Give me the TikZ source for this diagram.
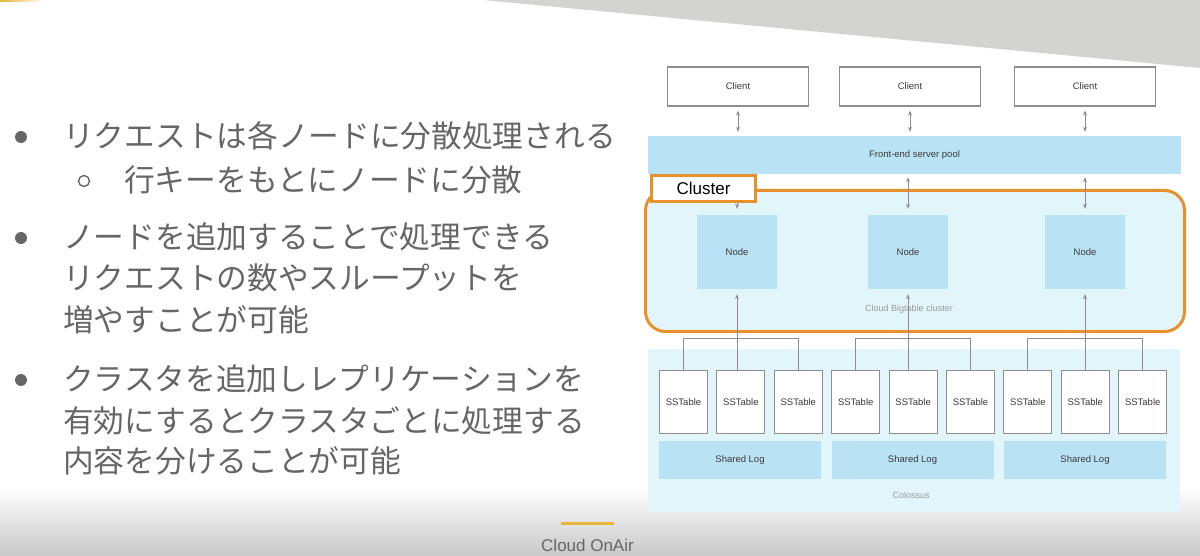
\documentclass[tikz,border=0pt]{standalone}
\usepackage{fontspec}
\setmainfont{Liberation Sans}
\newfontfamily\jpfont{Noto Sans CJK JP}
\usetikzlibrary{arrows.meta}
\definecolor{linegray}{HTML}{8E8E8E}
\definecolor{boxtext}{HTML}{3A3A3A}
\definecolor{captiongray}{HTML}{9A9A9A}
\definecolor{tileblue}{HTML}{B9E3F4}
\definecolor{clustercyan}{HTML}{E2F5FA}
\definecolor{clusterorange}{HTML}{E8912C}
\definecolor{slidegray}{HTML}{666666}
\definecolor{topgray}{HTML}{D3D3D2}
\definecolor{footgray}{HTML}{C8C8C8}
\definecolor{onairyellow}{HTML}{E6B63B}
\begin{document}
\begin{tikzpicture}[x=1pt,y=-1pt,
    box/.style={draw=linegray,line width=1.1pt,fill=white,inner sep=0pt,text=boxtext,font=\fontsize{9.5}{11}\selectfont},
    tile/.style={fill=tileblue,inner sep=0pt,text=boxtext,font=\fontsize{9.5}{11}\selectfont},
    bgcaption/.style={text=captiongray,font=\fontsize{9}{11}\selectfont},
    link/.style={draw=linegray,line width=1pt},
    twoway/.style={link,{Stealth[length=5pt,width=4pt]}-{Stealth[length=5pt,width=4pt]}},
    uparrow/.style={link,-{Stealth[length=5pt,width=4pt]}},
    jpline/.style={anchor=west,inner sep=0pt,text=slidegray,font=\jpfont\fontsize{30.7}{36}\selectfont}]
  \useasboundingbox (0,0) rectangle (1200,556);
  \fill[white] (0,0) rectangle (1200,556);
  \fill[topgray] (483,0) -- (1200,0) -- (1200,68) -- cycle;
  \shade[left color=onairyellow,right color=white] (0,0) rectangle (45,2);
  \shade[top color=white,bottom color=footgray] (0,488) rectangle (1200,556);
  \draw[onairyellow,line width=3pt] (561,523) -- (614,523);
  \node[text=slidegray,font=\fontsize{17}{20}\selectfont] (onair) at (587.5,545) {Cloud OnAir};

  \foreach \n/\x/\y/\t in {1/63/136/リクエストは各ノードに分散処理される,
                          2/124/180/行キーをもとにノードに分散,
                          3/63/237/ノードを追加することで処理できる,
                          4/63/278/リクエストの数やスループットを,
                          5/63/320/増やすことが可能,
                          6/63/379/クラスタを追加しレプリケーションを,
                          7/63/421/有効にするとクラスタごとに処理する,
                          8/63/461/内容を分けることが可能}
    \node[jpline] (text\n) at (\x,\y) {\t};
  \foreach \n/\y in {1/137,3/238,6/380}
    \node[circle,fill=slidegray,minimum size=12,inner sep=0pt] (dot\n) at (21,\y) {};
  \node[circle,draw=slidegray,line width=1.4pt,minimum size=11,inner sep=0pt] (ring2) at (84,181) {};

  \foreach \i/\x in {1/738,2/910,3/1085}
    \node[box,minimum width=141,minimum height=39] (client\i) at (\x,86.5) {Client};
  \node[tile,minimum width=533,minimum height=38] (frontend) at (914.5,155) {Front-end server pool};
  \node[draw=clusterorange,line width=3pt,fill=clustercyan,rounded corners=20pt,minimum width=539,minimum height=141] (cluster) at (915,261) {};
  \node[bgcaption] (bigtable) at (909,309) {Cloud Bigtable cluster};
  \foreach \i/\x in {1/737,2/908,3/1085}
    \node[tile,minimum width=80,minimum height=74] (node\i) at (\x,252) {Node};

  \node[fill=clustercyan,minimum width=532,minimum height=163,inner sep=0pt] (colossus) at (914,430.5) {};
  \node[bgcaption] (colossuslabel) at (911,495) {Colossus};
  \foreach \k in {1,...,9}
    \node[box,minimum width=48,minimum height=63] (sst\k) at ({683.5+57.4*(\k-1)},402) {SSTable};
  \foreach \g in {1,2,3}
    \node[tile,minimum width=162,minimum height=38] (log\g) at ({740+172.5*(\g-1)},460) {Shared Log};

  \foreach \i in {1,2,3} {
    \draw[twoway,shorten <=4pt,shorten >=4pt] (client\i.south) -- (client\i.south |- frontend.north);
    \draw[twoway,shorten <=3pt,shorten >=6pt] (frontend.south -| node\i.north) -- (node\i.north);
  }
  \foreach \g in {1,2,3} {
    \pgfmathtruncatemacro{\sfirst}{3*\g-2}
    \pgfmathtruncatemacro{\smid}{3*\g-1}
    \pgfmathtruncatemacro{\slast}{3*\g}
    \draw[link] (sst\sfirst.north) -- ++(0,-31) -| (sst\slast.north);
    \draw[uparrow,shorten >=5pt] (sst\smid.north -| node\g.south) -- (node\g.south);
  }
  \node[draw=clusterorange,line width=3pt,fill=white,minimum width=104,minimum height=26,inner sep=0pt,font=\fontsize{17}{20}\selectfont] (clusterlabel) at (703.5,188.5) {Cluster};
\end{tikzpicture}
\end{document}
